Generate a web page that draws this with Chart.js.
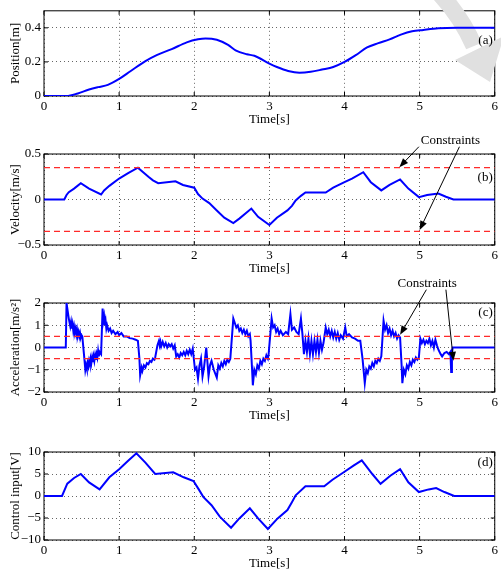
<!DOCTYPE html>
<html>
<head>
<meta charset="utf-8">
<script src="https://cdn.jsdelivr.net/npm/chart.js@4.4.0/dist/chart.umd.min.js"></script>
<style>
  body { margin: 0; background: #fff; width: 501px; height: 574px; overflow: hidden; position: relative; }
  .panel { position: absolute; left: 0; width: 501px; }
</style>
</head>
<body>
<div class="panel" style="top:0;height:127px"><canvas id="chartA"></canvas></div>
<div class="panel" style="top:130px;height:146px"><canvas id="chartB"></canvas></div>
<div class="panel" style="top:276px;height:147px"><canvas id="chartC"></canvas></div>
<div class="panel" style="top:425px;height:146px"><canvas id="chartD"></canvas></div>
<script>
// time axis
const timeTicks = [0, 1, 2, 3, 4, 5, 6];
const timeTickLabels = ['0', '1', '2', '3', '4', '5', '6'];

// (a) position [m]
const posTicks = [0, 0.2, 0.4];
const posTickLabels = ['0', '0.2', '0.4'];
const posPoints = [
  [0, 0], [0.3, 0], [0.45, 0.015], [0.6, 0.038], [0.72, 0.052], [0.85, 0.065], [1.0, 0.1],
  [1.15, 0.145], [1.35, 0.205], [1.5, 0.24], [1.7, 0.275], [1.9, 0.315], [2.05, 0.333],
  [2.15, 0.338], [2.3, 0.33], [2.45, 0.3], [2.55, 0.268], [2.7, 0.245], [2.8, 0.236],
  [3.0, 0.19], [3.1, 0.17], [3.25, 0.147], [3.4, 0.137], [3.55, 0.142], [3.7, 0.155],
  [3.85, 0.17], [4.0, 0.2], [4.15, 0.24], [4.3, 0.285], [4.45, 0.31], [4.6, 0.332],
  [4.75, 0.36], [4.9, 0.38], [5.05, 0.388], [5.25, 0.397], [5.5, 0.4], [6, 0.4]
];

// (b) velocity [m/s]
const velTicks = [-0.5, 0, 0.5];
const velTickLabels = ['\u22120.5', '0', '0.5'];
const velLimit = 0.35;
const velPoints = [
  [0, 0], [0.27, 0], [0.3, 0.05], [0.33, 0.08], [0.4, 0.12], [0.49, 0.18], [0.6, 0.12],
  [0.76, 0.055], [0.8, 0.1], [0.87, 0.15], [1.0, 0.23], [1.12, 0.29], [1.25, 0.35],
  [1.32, 0.3], [1.39, 0.25], [1.45, 0.21], [1.52, 0.18], [1.75, 0.2], [1.85, 0.16],
  [2.0, 0.13], [2.05, 0.06], [2.11, 0.01], [2.2, -0.04], [2.3, -0.12], [2.4, -0.2],
  [2.52, -0.26], [2.6, -0.21], [2.76, -0.1], [2.85, -0.19], [3.0, -0.28], [3.1, -0.2],
  [3.24, -0.12], [3.3, -0.07], [3.35, -0.01], [3.42, 0.04], [3.48, 0.077], [3.75, 0.077],
  [3.85, 0.13], [4.0, 0.19], [4.1, 0.23], [4.25, 0.3], [4.35, 0.19], [4.49, 0.1],
  [4.6, 0.16], [4.74, 0.22], [4.85, 0.12], [4.99, 0.026], [5.1, 0.05], [5.25, 0.065],
  [5.35, 0.03], [5.45, 0], [6, 0]
];

// (c) acceleration [m/s^2]
const accTicks = [-2, -1, 0, 1, 2];
const accTickLabels = ['\u22122', '\u22121', '0', '1', '2'];
const accLimit = 0.5;
const accPoints = [
  [0, 0], [0.29, 0], [0.30, 2.0], [0.33, 1.3], [0.35, 0.95], [0.36, 1.15], [0.37, 0.85], [0.38, 1.05],
  [0.39, 0.75], [0.40, 0.95], [0.41, 0.7], [0.42, 0.85], [0.43, 0.6], [0.44, 0.8], [0.45, 0.55],
  [0.46, 0.7], [0.47, 0.5], [0.48, 0.65], [0.49, 0.45], [0.50, 0.55], [0.51, 0.5],
  [0.54, -0.6], [0.55, -1.0], [0.56, -0.8], [0.57, -0.95], [0.58, -0.7], [0.59, -0.85], [0.60, -0.6],
  [0.61, -0.75], [0.62, -0.5], [0.63, -0.7], [0.64, -0.45], [0.65, -0.65], [0.66, -0.4], [0.67, -0.6],
  [0.68, -0.35], [0.69, -0.55], [0.70, -0.3], [0.71, -0.45], [0.72, -0.15], [0.73, -0.4], [0.74, -0.2],
  [0.76, -0.3],
  [0.78, 1.75], [0.79, 1.2], [0.80, 1.4], [0.81, 1.0], [0.82, 1.2], [0.83, 0.85], [0.84, 1.0],
  [0.86, 0.75], [0.88, 0.85], [0.90, 0.65], [0.92, 0.75], [0.95, 0.6], [0.98, 0.7], [1.00, 0.55],
  [1.03, 0.65], [1.06, 0.5], [1.10, 0.5], [1.14, 0.42], [1.18, 0.4], [1.22, 0.35], [1.25, 0.3],
  [1.27, -0.5], [1.28, -1.25], [1.30, -0.9], [1.31, -1.05], [1.33, -0.8], [1.35, -0.9], [1.37, -0.7],
  [1.39, -0.75], [1.41, -0.6], [1.43, -0.65], [1.45, -0.5], [1.47, -0.55], [1.48, -0.45],
  [1.51, 0.1], [1.53, 0.3], [1.54, 0.1], [1.55, 0.25], [1.56, 0.05], [1.58, 0.25], [1.60, 0.05],
  [1.62, 0.2], [1.64, 0.0], [1.66, 0.15], [1.68, 0.05], [1.70, 0.15], [1.72, -0.05], [1.74, 0.1],
  [1.76, -0.4], [1.78, -0.3], [1.80, -0.45], [1.82, -0.25], [1.84, -0.35], [1.86, -0.2], [1.88, -0.35],
  [1.90, -0.15], [1.92, -0.3], [1.94, -0.1], [1.96, -0.3], [1.98, -0.05],
  [2.01, -1.0], [2.03, -0.9], [2.05, -1.4], [2.07, -0.8], [2.09, -0.5], [2.11, -1.3], [2.13, -0.9],
  [2.16, 0.0], [2.19, -1.3], [2.21, -0.8], [2.23, -0.6], [2.26, -1.0], [2.30, -1.35], [2.32, -0.8],
  [2.34, -0.95], [2.36, -0.7], [2.38, -0.85], [2.40, -0.6], [2.42, -0.75], [2.44, -0.55], [2.46, -0.65],
  [2.48, -0.5],
  [2.52, 1.3], [2.54, 1.1], [2.56, 0.9], [2.58, 1.0], [2.60, 0.75], [2.62, 0.85], [2.64, 0.65],
  [2.66, 0.8], [2.68, 0.6], [2.70, 0.75], [2.72, 0.5], [2.74, 0.6], [2.75, 0.3],
  [2.77, -1.0], [2.78, -1.7], [2.80, -1.0], [2.82, -1.2], [2.84, -0.8], [2.86, -0.95], [2.88, -0.6],
  [2.90, -0.75], [2.92, -0.5], [2.94, -0.6], [2.96, -0.35], [2.98, -0.5], [2.99, -0.3],
  [3.03, 1.3], [3.05, 0.9], [3.07, 1.0], [3.09, 0.7], [3.11, 0.85], [3.13, 0.6], [3.15, 0.75],
  [3.18, 0.55], [3.22, 0.7], [3.25, 0.6], [3.28, 1.5], [3.30, 0.8], [3.33, 0.9], [3.36, 0.7],
  [3.39, 0.6], [3.42, 1.3], [3.44, 0.6], [3.46, -0.3], [3.48, 0.3], [3.50, -0.2], [3.52, 0.4],
  [3.54, -0.3], [3.56, 0.3], [3.58, -0.3], [3.60, 0.3], [3.62, -0.2], [3.64, 0.35], [3.66, -0.25],
  [3.68, 0.3], [3.70, -0.1], [3.72, 0.2],
  [3.75, 0.9], [3.77, 0.6], [3.79, 0.8], [3.81, 0.5], [3.83, 0.75], [3.85, 0.45], [3.87, 0.7],
  [3.89, 0.4], [3.91, 0.65], [3.93, 0.35], [3.95, 0.55], [3.98, 0.4], [4.01, 0.9], [4.03, 0.5],
  [4.06, 0.6], [4.10, 0.45], [4.14, 0.4], [4.18, 0.3], [4.21, 0.3],
  [4.24, -0.5], [4.27, -1.6], [4.29, -1.0], [4.31, -1.15], [4.33, -0.85], [4.35, -0.95], [4.37, -0.7],
  [4.39, -0.85], [4.41, -0.6], [4.43, -0.7], [4.45, -0.5], [4.47, -0.6], [4.49, -0.4],
  [4.52, 1.2], [4.54, 0.8], [4.56, 1.0], [4.58, 0.65], [4.60, 0.85], [4.62, 0.55], [4.64, 0.75],
  [4.66, 0.5], [4.68, 0.65], [4.70, 0.4], [4.72, 0.55], [4.74, 0.45],
  [4.76, -0.8], [4.77, -1.6], [4.79, -1.0], [4.81, -1.2], [4.83, -0.8], [4.85, -0.95], [4.87, -0.65],
  [4.89, -0.8], [4.91, -0.55], [4.93, -0.65], [4.95, -0.45], [4.97, -0.55], [4.99, -0.45],
  [5.01, 0.4], [5.03, 0.2], [5.05, 0.35], [5.07, 0.15], [5.09, 0.3], [5.11, 0.2], [5.13, 0.4],
  [5.15, 0.1], [5.17, 0.3], [5.19, 0.0], [5.21, 0.35], [5.23, 0.1], [5.25, -0.1], [5.28, -0.3],
  [5.30, -0.4], [5.33, -0.25], [5.36, -0.2], [5.39, -0.3], [5.41, -0.2], [5.42, -1.1], [5.43, -0.3],
  [5.44, 0], [6, 0]
];

// (d) control input [V]
const ctrlTicks = [-10, -5, 0, 5, 10];
const ctrlTickLabels = ['\u221210', '\u22125', '0', '5', '10'];
const ctrlPoints = [
  [0, 0], [0.24, 0], [0.31, 2.8], [0.4, 4.1], [0.49, 5.0], [0.6, 3.1], [0.74, 1.5], [0.87, 4.25],
  [1.0, 6.1], [1.12, 8.0], [1.23, 9.7], [1.35, 7.6], [1.48, 5.0], [1.72, 5.4], [1.86, 4.25],
  [1.99, 3.4], [2.06, 1.5], [2.12, -0.2], [2.23, -2.1], [2.34, -4.7], [2.49, -7.2], [2.6, -5.1],
  [2.74, -2.8], [2.85, -5.1], [2.98, -7.5], [3.11, -5.1], [3.24, -3.2], [3.3, -1.4], [3.35, 0.15],
  [3.48, 2.2], [3.73, 2.2], [3.84, 3.7], [3.99, 5.4], [4.12, 6.9], [4.23, 8.1], [4.37, 5.0],
  [4.48, 2.76], [4.61, 4.6], [4.74, 6.1], [4.85, 3.1], [4.99, 0.9], [5.12, 1.5], [5.22, 1.8],
  [5.33, 0.9], [5.46, 0], [6, 0]
];

const serif = "'Liberation Serif', 'Times New Roman', serif";
const font = { family: serif, size: 13 };
const BLUE = '#0000ff';
const RED = '#ff2a2a';

const toXY = pts => pts.map(p => ({ x: p[0], y: p[1] }));
const flatLine = v => [{ x: timeTicks[0], y: v }, { x: timeTicks[timeTicks.length - 1], y: v }];

// matlab-like box, inward ticks, panel tag, "Constraints" notes, grey watermark
const matlabBox = {
  id: 'matlabBox',
  beforeDatasetsDraw(chart, args, opts) {
    const { ctx, chartArea: a, scales: { x, y } } = chart;
    ctx.save();
    ctx.strokeStyle = '#000';
    ctx.lineWidth = 1;
    ctx.strokeRect(a.left, a.top, a.right - a.left, a.bottom - a.top);
    ctx.beginPath();
    x.ticks.forEach(t => {
      const px = x.getPixelForValue(t.value);
      ctx.moveTo(px, a.bottom); ctx.lineTo(px, a.bottom - 4);
      ctx.moveTo(px, a.top); ctx.lineTo(px, a.top + 4);
    });
    y.ticks.forEach(t => {
      const py = y.getPixelForValue(t.value);
      ctx.moveTo(a.left, py); ctx.lineTo(a.left + 4, py);
      ctx.moveTo(a.right, py); ctx.lineTo(a.right - 4, py);
    });
    ctx.stroke();
    if (opts.watermark) {
      ctx.strokeStyle = '#e0e0e0';
      ctx.fillStyle = '#e0e0e0';
      ctx.lineWidth = 17;
      ctx.beginPath();
      ctx.moveTo(440, -6);
      ctx.quadraticCurveTo(462, 18, 474, 46);
      ctx.stroke();
      ctx.beginPath();
      ctx.moveTo(455, 60);
      ctx.lineTo(504, 36);
      ctx.lineTo(490, 82);
      ctx.closePath();
      ctx.fill();
    }
    ctx.restore();
  },
  afterDatasetsDraw(chart, args, opts) {
    const { ctx, chartArea: a, scales: { x, y } } = chart;
    ctx.save();
    ctx.fillStyle = '#000';
    ctx.font = '13px ' + serif;
    if (opts.tag) {
      ctx.textAlign = 'right';
      ctx.textBaseline = 'middle';
      ctx.fillText(opts.tag, a.right - 2, a.top + opts.tagOffset);
    }
    if (opts.note) {
      const n = opts.note;
      ctx.textAlign = 'center';
      ctx.textBaseline = 'middle';
      ctx.fillText(n.text, x.getPixelForValue(n.x), y.getPixelForValue(n.y));
      ctx.strokeStyle = '#000';
      ctx.lineWidth = 1;
      n.arrows.forEach(ar => {
        const x0 = x.getPixelForValue(ar[0]), y0 = y.getPixelForValue(ar[1]);
        const x1 = x.getPixelForValue(ar[2]), y1 = y.getPixelForValue(ar[3]);
        const ang = Math.atan2(y1 - y0, x1 - x0);
        ctx.beginPath();
        ctx.moveTo(x0, y0);
        ctx.lineTo(x1 - 6 * Math.cos(ang), y1 - 6 * Math.sin(ang));
        ctx.stroke();
        ctx.beginPath();
        ctx.moveTo(x1, y1);
        ctx.lineTo(x1 - 9 * Math.cos(ang) + 3.5 * Math.sin(ang), y1 - 9 * Math.sin(ang) - 3.5 * Math.cos(ang));
        ctx.lineTo(x1 - 9 * Math.cos(ang) - 3.5 * Math.sin(ang), y1 - 9 * Math.sin(ang) + 3.5 * Math.cos(ang));
        ctx.closePath();
        ctx.fill();
      });
    }
    ctx.restore();
  }
};

function drawPanel(id, p) {
  return new Chart(document.getElementById(id), {
    type: 'line',
    data: { datasets: p.datasets },
    options: {
      responsive: true,
      maintainAspectRatio: false,
      animation: false,
      layout: { padding: { top: p.padTop, right: 2, left: 0, bottom: 0 } },
      elements: { point: { radius: 0 } },
      plugins: {
        legend: { display: false },
        tooltip: { enabled: false },
        matlabBox: p.box
      },
      scales: {
        x: {
          type: 'linear',
          min: 0,
          max: 6,
          afterBuildTicks: s => { s.ticks = timeTicks.map(v => ({ value: v })); },
          afterFit: s => { s.height = 31; },
          ticks: { callback: (v, i) => timeTickLabels[i], padding: 3, color: '#000', font: font, maxRotation: 0 },
          grid: { color: 'rgba(0,0,0,0.6)', lineWidth: 1, drawTicks: false },
          border: { display: false, dash: [1, 3] },
          title: { display: true, text: 'Time[s]', color: '#000', font: font, padding: 0 }
        },
        y: {
          type: 'linear',
          min: p.yMin,
          max: p.yMax,
          afterBuildTicks: s => { s.ticks = p.yTicks.map(v => ({ value: v })); },
          afterFit: s => { s.width = 44; },
          ticks: { callback: (v, i) => p.yLabels[i], padding: 3, color: '#000', font: font },
          grid: { color: 'rgba(0,0,0,0.6)', lineWidth: 1, drawTicks: false },
          border: { display: false, dash: [1, 3] },
          title: { display: true, text: p.yTitle, color: '#000', font: font, padding: { top: 8, bottom: 0 } }
        }
      }
    },
    plugins: [matlabBox]
  });
}

const blueLine = (pts, extra) => Object.assign({
  data: toXY(pts), borderColor: BLUE, borderWidth: 2, pointRadius: 0, fill: false, tension: 0
}, extra || {});
const redDash = v => ({
  data: flatLine(v), borderColor: RED, borderWidth: 1.2, borderDash: [6, 4], pointRadius: 0, fill: false
});

drawPanel('chartA', {
  padTop: 7, yMin: 0, yMax: 0.5, yTicks: posTicks, yLabels: posTickLabels, yTitle: 'Position[m]',
  datasets: [blueLine(posPoints, { cubicInterpolationMode: 'monotone' })],
  box: { tag: '(a)', tagOffset: 30, watermark: true }
});

drawPanel('chartB', {
  padTop: 24, yMin: -0.5, yMax: 0.5, yTicks: velTicks, yLabels: velTickLabels, yTitle: 'Velocity[m/s]',
  datasets: [redDash(velLimit), redDash(-velLimit), blueLine(velPoints)],
  box: {
    tag: '(b)', tagOffset: 24,
    note: { text: 'Constraints', x: 5.41, y: 0.65, arrows: [[4.99, 0.58, 4.73, 0.355], [5.53, 0.58, 5.0, -0.335]] }
  }
});

drawPanel('chartC', {
  padTop: 27, yMin: -2, yMax: 2, yTicks: accTicks, yLabels: accTickLabels, yTitle: 'Acceleration[m/s\u00b2]',
  datasets: [redDash(accLimit), redDash(-accLimit), blueLine(accPoints, { borderWidth: 2 })],
  box: {
    tag: '(c)', tagOffset: 10,
    note: { text: 'Constraints', x: 5.1, y: 2.88, arrows: [[5.09, 2.6, 4.74, 0.57], [5.35, 2.6, 5.45, -0.6]] }
  }
});

drawPanel('chartD', {
  padTop: 27, yMin: -10, yMax: 10, yTicks: ctrlTicks, yLabels: ctrlTickLabels, yTitle: 'Control input[V]',
  datasets: [blueLine(ctrlPoints)],
  box: { tag: '(d)', tagOffset: 11 }
});
</script>
</body>
</html>
